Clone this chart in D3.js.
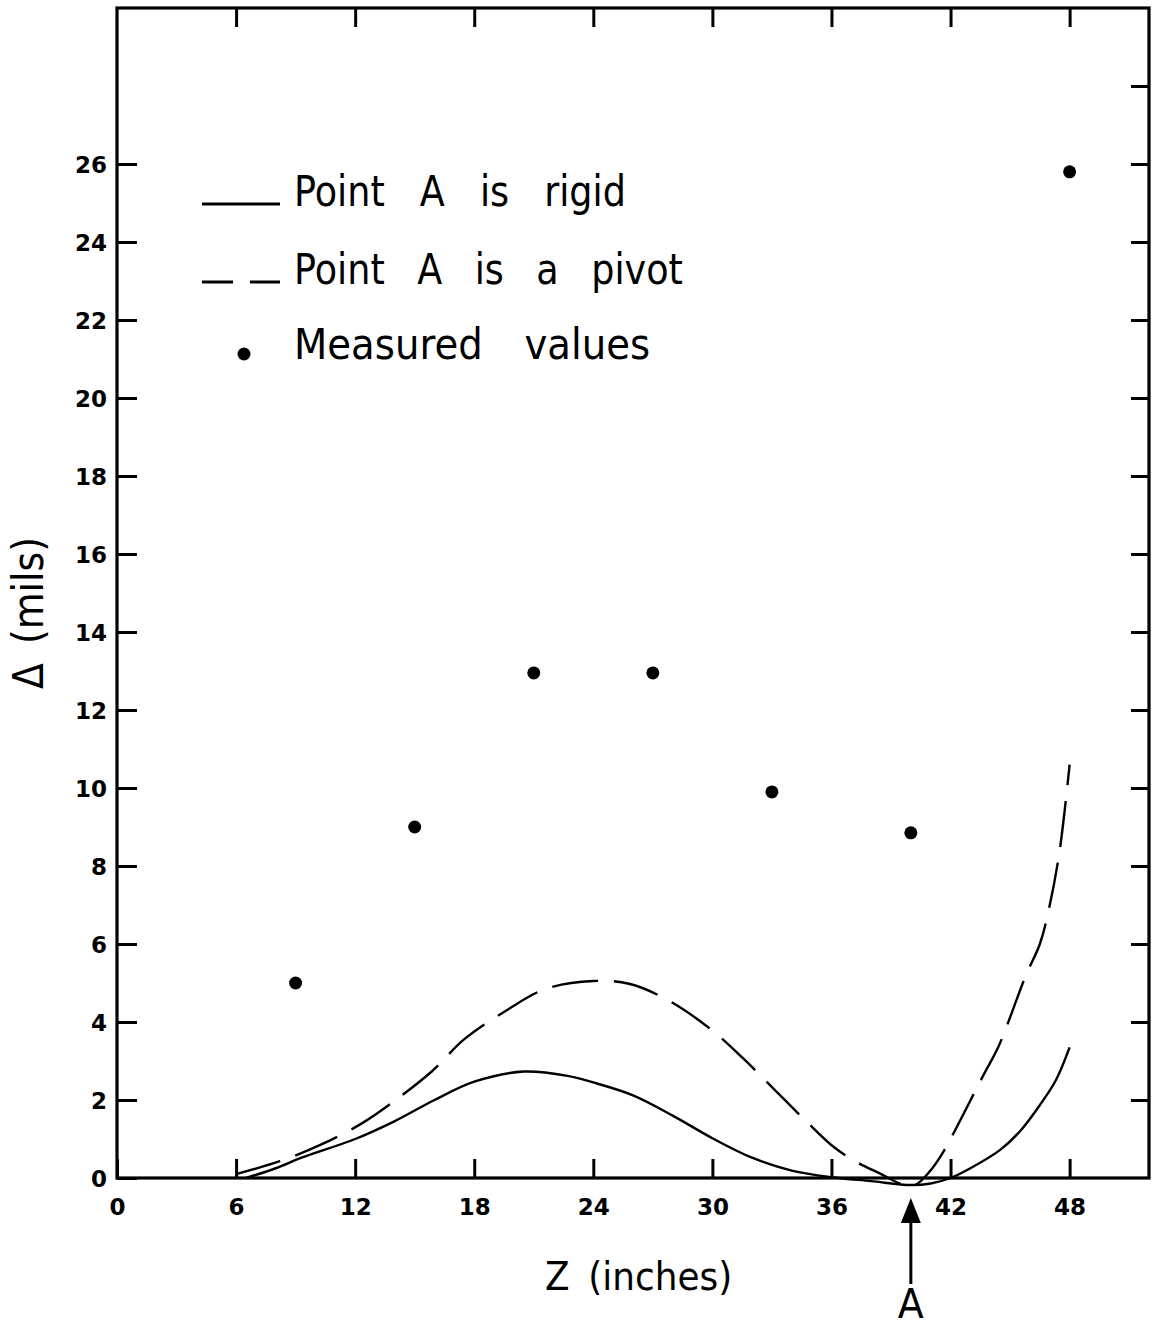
<!DOCTYPE html>
<html><head><meta charset="utf-8">
<script src="https://cdn.jsdelivr.net/npm/d3@7"></script>
<style>body{margin:0;background:#fff}svg{display:block}</style>
</head><body><svg id="c" width="1152" height="1332"></svg>
<script>
// ---- data ----
const xTickValues = [0, 6, 12, 18, 24, 30, 36, 42, 48];
const yTickValues = [0, 2, 4, 6, 8, 10, 12, 14, 16, 18, 20, 22, 24, 26];
const topTickValues = [6, 12, 18, 24, 30, 36, 42, 48];
const rightTickValues = [2, 4, 6, 8, 10, 12, 14, 16, 18, 20, 22, 24, 26, 28];

const measuredZ = [9, 15, 21, 27, 33, 40, 48];
const measuredD = [5.0, 9.0, 12.95, 12.95, 9.9, 8.85, 25.8];

const rigidZ = [6.5, 8, 9.3, 12, 14, 16, 18, 20.5, 22.7, 24, 26, 28, 30, 32, 34, 36, 38, 40, 41, 42, 43, 44.5, 45.5, 46.5, 47.3, 48];
const rigidD = [0, 0.25, 0.52, 1.0, 1.46, 2.0, 2.47, 2.73, 2.62, 2.45, 2.12, 1.6, 1.02, 0.52, 0.19, 0.02, -0.08, -0.18, -0.14, 0.0, 0.25, 0.72, 1.2, 1.87, 2.5, 3.35];

const pivotZ = [6, 8.2, 10.3, 12.4, 14.2, 15.9, 17.5, 19.6, 21.6, 24, 25.8, 27.8, 29.9, 31.5, 33.2, 34.8, 36.1, 37.3, 38.5, 39.5, 40.2, 41, 41.6, 42.1, 43.7, 44.4, 45.8, 46.5, 47, 47.5, 48];
const pivotD = [0.1, 0.43, 0.86, 1.42, 2.06, 2.75, 3.56, 4.29, 4.85, 5.05, 4.98, 4.55, 3.82, 3.09, 2.23, 1.42, 0.8, 0.4, 0.1, -0.15, -0.18, 0.2, 0.64, 1.1, 2.68, 3.35, 5.2, 6.0, 7.0, 8.4, 10.6];

const legendLabels = ["Point A is rigid", "Point A is a pivot", "Measured values"];
const xTitle = "Z (inches)";
const yTitle = "\u0394 (mils)";
const pointLabel = "A";
const pointAZ = 40;

// ---- chart ----
const svg = d3.select("#c");
const x = d3.scaleLinear().domain([0, 52]).range([117, 1149]);
const y = d3.scaleLinear().domain([0, 30]).range([1178, 8]);
const FONT = "'DejaVu Sans', 'Liberation Sans', sans-serif";

svg.append("rect").attr("width", 1152).attr("height", 1332).attr("fill", "#fff");

function styleAxis(g) {
  g.select(".domain").remove();
  g.selectAll(".tick line").attr("stroke", "#000").attr("stroke-width", 3);
}

// bottom axis
const gx = svg.append("g").attr("transform", `translate(0,${y(0)})`)
  .call(d3.axisBottom(x).tickValues(xTickValues).tickSizeInner(-19).tickSizeOuter(0).tickFormat(d3.format("d")));
styleAxis(gx);
gx.selectAll(".tick text").attr("y", 37).attr("dy", 0)
  .attr("font-family", FONT).attr("font-weight", "bold").attr("font-size", 23).attr("fill", "#000");

// left axis
const gy = svg.append("g").attr("transform", `translate(${x(0)},0)`)
  .call(d3.axisLeft(y).tickValues(yTickValues).tickSizeInner(-20).tickSizeOuter(0).tickFormat(d3.format("d")));
styleAxis(gy);
gy.selectAll(".tick text").attr("x", -10).attr("dy", "0.36em")
  .attr("font-family", FONT).attr("font-weight", "bold").attr("font-size", 23).attr("fill", "#000");

// top axis (ticks only)
const gt = svg.append("g").attr("transform", `translate(0,${y(30)})`)
  .call(d3.axisTop(x).tickValues(topTickValues).tickSizeInner(-19).tickSizeOuter(0).tickFormat(""));
styleAxis(gt);

// right axis (ticks only)
const gr = svg.append("g").attr("transform", `translate(${x(52)},0)`)
  .call(d3.axisRight(y).tickValues(rightTickValues).tickSizeInner(-18).tickSizeOuter(0).tickFormat(""));
styleAxis(gr);

// frame
svg.append("rect")
  .attr("x", x(0)).attr("y", y(30))
  .attr("width", x(52) - x(0)).attr("height", y(0) - y(30))
  .attr("fill", "none").attr("stroke", "#000").attr("stroke-width", 3.2);

// curves
const line = d3.line().x(d => x(d[0])).y(d => y(d[1])).curve(d3.curveCatmullRom.alpha(0.5));
svg.append("path").datum(d3.zip(rigidZ, rigidD))
  .attr("d", line).attr("fill", "none").attr("stroke", "#000").attr("stroke-width", 2.4);
svg.append("path").datum(d3.zip(pivotZ, pivotD))
  .attr("d", line).attr("fill", "none").attr("stroke", "#000").attr("stroke-width", 2.4)
  .attr("stroke-dasharray", "46,16");

// measured points
svg.append("g").selectAll("circle").data(d3.zip(measuredZ, measuredD)).join("circle")
  .attr("cx", d => x(d[0])).attr("cy", d => y(d[1])).attr("r", 6.5).attr("fill", "#000");

// condensed text helper
function ctext(parent, tx, ty, str, size, sx, ws, anchor, rot) {
  return parent.append("text")
    .attr("transform", `translate(${tx},${ty})` + (rot ? ` rotate(${rot})` : "") + ` scale(${sx},1)`)
    .attr("font-family", FONT).attr("font-size", size).attr("fill", "#000")
    .attr("text-anchor", anchor || "start")
    .style("word-spacing", ws + "px")
    .text(str);
}

// legend
const lg = svg.append("g");
lg.append("line").attr("x1", 202).attr("x2", 280).attr("y1", 204).attr("y2", 204)
  .attr("stroke", "#000").attr("stroke-width", 3);
lg.append("line").attr("x1", 202).attr("x2", 280).attr("y1", 282).attr("y2", 282)
  .attr("stroke", "#000").attr("stroke-width", 3).attr("stroke-dasharray", "31,17");
lg.append("circle").attr("cx", 244).attr("cy", 354).attr("r", 6.5).attr("fill", "#000");
ctext(lg, 294, 206, legendLabels[0], 42, 0.87, 27);
ctext(lg, 294, 284, legendLabels[1], 42, 0.87, 24);
ctext(lg, 294, 359, legendLabels[2], 42, 0.92, 32);

// axis titles
ctext(svg, 545, 1290, xTitle, 39, 0.92, 8);
ctext(svg, 43, 613, yTitle, 43, 0.88, 8, "middle", -90);

// point A arrow
const ax = x(pointAZ);
svg.append("line").attr("x1", ax).attr("x2", ax).attr("y1", 1218).attr("y2", 1284)
  .attr("stroke", "#000").attr("stroke-width", 3);
svg.append("path")
  .attr("d", `M${ax},${y(0) + 20} L${ax - 10},${y(0) + 45} L${ax + 10},${y(0) + 45} Z`)
  .attr("fill", "#000");
ctext(svg, ax, 1318, pointLabel, 40, 0.95, 0, "middle");
</script>
</body></html>
